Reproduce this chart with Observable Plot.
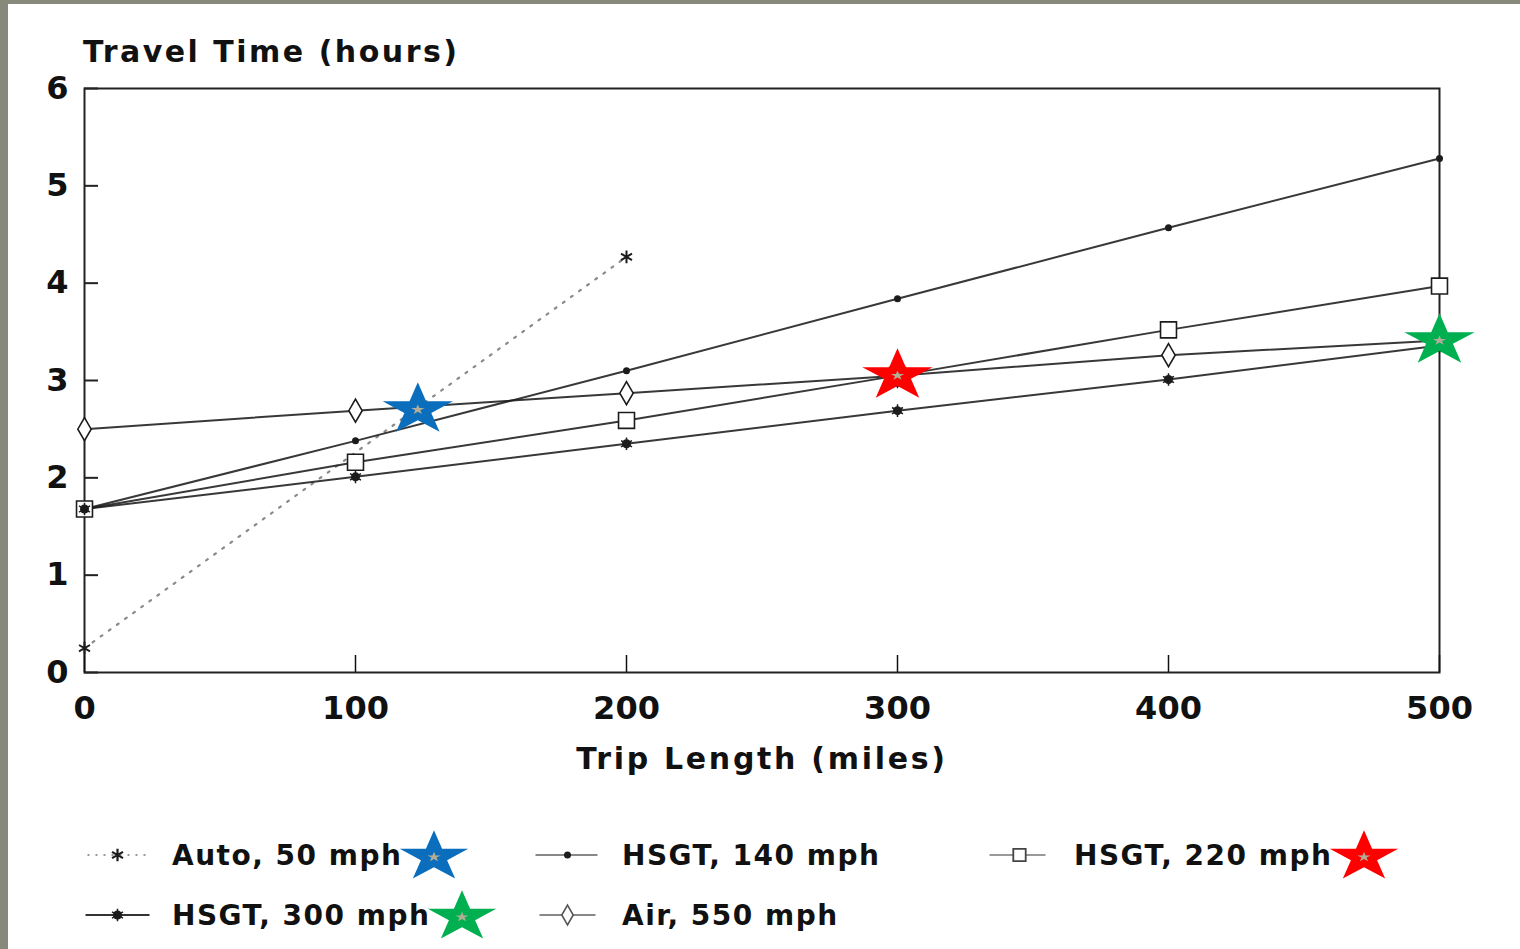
<!DOCTYPE html>
<html>
<head>
<meta charset="utf-8">
<script src="https://cdn.jsdelivr.net/npm/d3@7"></script>
<script src="https://cdn.jsdelivr.net/npm/@observablehq/plot@0.6"></script>
<style>
  html, body { margin: 0; padding: 0; }
  body { width: 1520px; height: 949px; background: #878a7b; position: relative; overflow: hidden;
         font-family: "DejaVu Sans", sans-serif; font-weight: bold; color: #111; }
  #panel { position: absolute; left: 8px; top: 4px; width: 1512px; height: 945px; background: #fff; }
  #chart { position: absolute; left: 0; top: 0; }
  .title { position: absolute; font-size: 30px; line-height: 30px; letter-spacing: 2.5px; white-space: nowrap; }
  #ytitle { left: 83px; top: 37px; }
  #xtitle { left: 762px; top: 744px; transform: translateX(-50%); letter-spacing: 2.7px; }
  #legend { position: absolute; left: 85px; top: 825px; display: grid;
            grid-template-columns: 450px 452px 450px; grid-auto-rows: 60px; }
  .item { display: flex; align-items: center; font-size: 28px; letter-spacing: 1.5px; white-space: nowrap; }
  .item svg { flex: none; }
  .item .sw { margin-right: 22px; }
  .item .st { margin-left: -3px; }
</style>
</head>
<body>
<div id="panel"></div>
<div id="chart"></div>
<div class="title" id="ytitle">Travel Time (hours)</div>
<div class="title" id="xtitle">Trip Length (miles)</div>
<div id="legend"></div>
<script>
// ---- data ----
const xTicks = [0, 100, 200, 300, 400, 500];
const yTicks = [0, 1, 2, 3, 4, 5, 6];
const autoMiles = [0, 200];
const autoHours = [0.25, 4.27];
const tripMiles = [0, 100, 200, 300, 400, 500];
const hsgt140Hours = [1.68, 2.38, 3.10, 3.84, 4.57, 5.28];
const hsgt220Hours = [1.68, 2.16, 2.59, 3.05, 3.52, 3.97];
const hsgt300Hours = [1.68, 2.01, 2.35, 2.69, 3.01, 3.36];
const airHours = [2.50, 2.69, 2.87, 3.05, 3.26, 3.41];
const seriesNames = ["Auto, 50 mph", "HSGT, 140 mph", "HSGT, 220 mph", "HSGT, 300 mph", "Air, 550 mph"];
const starSeries = ["Auto, 50 mph", "HSGT, 220 mph", "HSGT, 300 mph"];
const starMiles = [123, 300, 500];
const starHours = [2.70, 3.05, 3.41];
const starColors = ["#0a6ebd", "#ff0000", "#00b050"];
const legendOrder = ["Auto, 50 mph", "HSGT, 140 mph", "HSGT, 220 mph", "HSGT, 300 mph", "Air, 550 mph"];

// ---- build tables ----
const toRows = (name, xs, ys) => xs.map((x, i) => ({series: name, miles: x, hours: ys[i]}));
const auto = toRows(seriesNames[0], autoMiles, autoHours);
const h140 = toRows(seriesNames[1], tripMiles, hsgt140Hours);
const h220 = toRows(seriesNames[2], tripMiles, hsgt220Hours);
const h300 = toRows(seriesNames[3], tripMiles, hsgt300Hours);
const air = toRows(seriesNames[4], tripMiles, airHours);
const stars = starSeries.map((s, i) => ({series: s, miles: starMiles[i], hours: starHours[i], color: starColors[i]}));

// squashed five-point star symbol
const squashStar = (sy) => ({
  draw(ctx, size) {
    const R = Math.sqrt(size / Math.PI), r = R * 0.382;
    for (let i = 0; i < 10; i++) {
      const a = -Math.PI / 2 + i * Math.PI / 5, rad = i % 2 ? r : R;
      const x = rad * Math.cos(a), y = rad * Math.sin(a) * sy;
      i ? ctx.lineTo(x, y) : ctx.moveTo(x, y);
    }
    ctx.closePath();
  }
});
const bigStar = squashStar(0.74);
const ink = "#1c1c1c";
const W = 1520, ML = 84, MR = 81;

const chart = Plot.plot({
  width: W, height: 800,
  marginLeft: ML, marginRight: MR, marginTop: 88, marginBottom: 128,
  x: {domain: [0, 500]},
  y: {domain: [0, 6]},
  style: {fontFamily: "DejaVu Sans", fontWeight: "bold", fontSize: "32px", color: "#111", background: "transparent", overflow: "visible"},
  marks: [
    Plot.lineY(auto, {x: "miles", y: "hours", stroke: "#8a8a8a", strokeWidth: 2.2, strokeDasharray: "2,8"}),
    Plot.lineY(h140, {x: "miles", y: "hours", stroke: ink, strokeWidth: 2, strokeOpacity: 0.88}),
    Plot.lineY(h220, {x: "miles", y: "hours", stroke: ink, strokeWidth: 2, strokeOpacity: 0.88}),
    Plot.lineY(h300, {x: "miles", y: "hours", stroke: ink, strokeWidth: 2, strokeOpacity: 0.88}),
    Plot.lineY(air, {x: "miles", y: "hours", stroke: ink, strokeWidth: 2, strokeOpacity: 0.88}),
    Plot.frame({stroke: "#222", strokeWidth: 2}),
    Plot.tickY(yTicks, {y: d => d, stroke: "#222", strokeWidth: 2, insetRight: W - ML - MR - 14}),
    Plot.axisX({ticks: xTicks, tickSize: -17, tickPadding: 41, label: null, strokeWidth: 1.5, fontSize: 32, letterSpacing: 2}),
    Plot.axisY({ticks: yTicks, tickFormat: d3.format("d"), tickSize: 0, tickPadding: 16, label: null, fontSize: 32}),
    Plot.dot(auto, {x: "miles", y: "hours", symbol: "asterisk", r: 6, stroke: ink, strokeWidth: 2}),
    Plot.dot(h140, {x: "miles", y: "hours", r: 3.5, fill: ink}),
    Plot.dot(h220, {x: "miles", y: "hours", symbol: "square", r: 9, fill: "white", stroke: ink, strokeWidth: 1.6}),
    Plot.dot(air, {x: "miles", y: "hours", symbol: "diamond", r: 7, fill: "white", stroke: ink, strokeWidth: 1.6}),
    Plot.dot(h300, {x: "miles", y: "hours", r: 4.5, fill: ink}),
    Plot.dot(h300, {x: "miles", y: "hours", symbol: "asterisk", r: 6, stroke: ink, strokeWidth: 1.5}),
    Plot.dot(stars, {x: "miles", y: "hours", symbol: bigStar, r: 37, fill: "color"}),
    Plot.dot(stars, {x: "miles", y: "hours", symbol: bigStar, r: 7, fill: "#b2ae95"})
  ]
});
document.getElementById("chart").append(chart);

// ---- legend ----
function swatch(name) {
  const svg = d3.create("svg").attr("class", "sw").attr("width", 65).attr("height", 30);
  const g = svg.append("g").attr("transform", "translate(32.5,15)");
  const sym = (type, r) => d3.symbol(type, Math.PI * r * r)();
  if (name === seriesNames[0]) {
    g.append("line").attr("x1", -30).attr("x2", 30).attr("stroke", "#999").attr("stroke-width", 2).attr("stroke-dasharray", "2,6");
    g.append("path").attr("d", sym(d3.symbolAsterisk, 6)).attr("stroke", ink).attr("stroke-width", 2.2).attr("fill", "none");
  } else if (name === seriesNames[1]) {
    g.append("line").attr("x1", -32).attr("x2", 30).attr("stroke", "#888").attr("stroke-width", 2);
    g.append("circle").attr("r", 3.5).attr("fill", ink);
  } else if (name === seriesNames[2]) {
    g.append("line").attr("x1", -30).attr("x2", 26).attr("stroke", "#999").attr("stroke-width", 2);
    g.append("path").attr("d", sym(d3.symbolSquare, 7)).attr("stroke", "#444").attr("stroke-width", 1.8).attr("fill", "white");
  } else if (name === seriesNames[3]) {
    g.append("line").attr("x1", -32).attr("x2", 32).attr("stroke", "#333").attr("stroke-width", 2);
    g.append("circle").attr("r", 4.5).attr("fill", ink);
    g.append("path").attr("d", sym(d3.symbolAsterisk, 6)).attr("stroke", ink).attr("stroke-width", 1.5).attr("fill", "none");
  } else {
    g.append("line").attr("x1", -28).attr("x2", 28).attr("stroke", "#888").attr("stroke-width", 2);
    g.append("path").attr("d", sym(d3.symbolDiamond, 6)).attr("stroke", "#555").attr("stroke-width", 1.6).attr("fill", "white");
  }
  return svg.node();
}
function starIcon(color) {
  const svg = d3.create("svg").attr("class", "st").attr("width", 70).attr("height", 56);
  const g = svg.append("g").attr("transform", "translate(35,30)");
  g.append("path").attr("d", d3.symbol(bigStar, Math.PI * 36 * 36)()).attr("fill", color);
  g.append("path").attr("d", d3.symbol(bigStar, Math.PI * 7 * 7)()).attr("fill", "#b2ae95");
  return svg.node();
}
const legend = document.getElementById("legend");
legendOrder.forEach(name => {
  const item = document.createElement("div");
  item.className = "item";
  item.append(swatch(name));
  const t = document.createElement("span");
  t.textContent = name;
  item.append(t);
  const si = starSeries.indexOf(name);
  if (si >= 0) item.append(starIcon(starColors[si]));
  legend.append(item);
});
</script>
</body>
</html>
